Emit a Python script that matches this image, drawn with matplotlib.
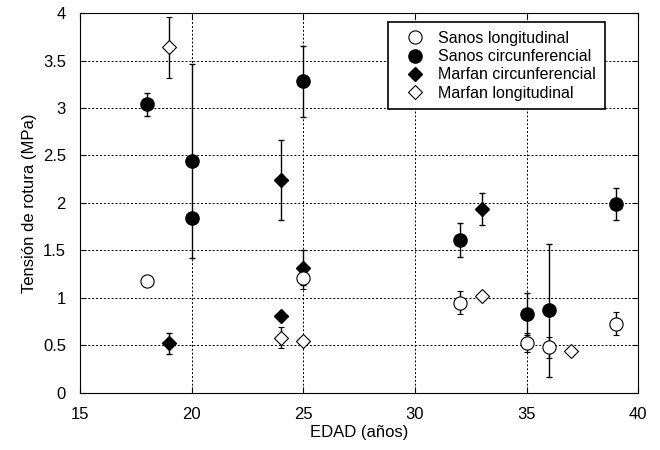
import matplotlib.pyplot as plt
from matplotlib.lines import Line2D

plt.rcParams['font.family'] = ['Liberation Sans', 'DejaVu Sans']

# Sanos longitudinal
sl_edad = [18, 25, 32, 35, 36, 39]
sl_val = [1.18, 1.21, 0.95, 0.53, 0.48, 0.73]
sl_err = [0.0, 0.12, 0.12, 0.10, 0.11, 0.12]

# Sanos circunferencial
sc_edad = [18, 20, 20, 25, 32, 35, 36, 39]
sc_val = [3.04, 2.44, 1.84, 3.28, 1.61, 0.83, 0.87, 1.99]
sc_err = [0.12, 1.02, 0.0, 0.37, 0.18, 0.22, 0.70, 0.17]

# Marfan circunferencial
mc_edad = [19, 24, 24, 25, 33]
mc_val = [0.52, 2.24, 0.81, 1.32, 1.94]
mc_err = [0.11, 0.42, 0.0, 0.18, 0.17]

# Marfan longitudinal
ml_edad = [19, 24, 25, 33, 37]
ml_val = [3.64, 0.58, 0.55, 1.02, 0.44]
ml_err = [0.32, 0.11, 0.0, 0.0, 0.0]

fig = plt.figure(figsize=(6.6, 4.5), dpi=100)
ax = fig.add_axes([0.121, 0.127, 0.846, 0.844])

eb = dict(ecolor='black', elinewidth=1, capsize=2.5, capthick=1, linestyle='none')
ax.errorbar(sc_edad, sc_val, yerr=sc_err, fmt='o', ms=9.5, mfc='black', mec='black',
            zorder=3, **eb)
ax.errorbar(mc_edad, mc_val, yerr=mc_err, fmt='D', ms=7.5, mfc='black', mec='black',
            zorder=3, **eb)
ax.errorbar(sl_edad, sl_val, yerr=sl_err, fmt='o', ms=9.5, mfc='white', mec='black',
            mew=0.8, zorder=4, **eb)
ax.errorbar(ml_edad, ml_val, yerr=ml_err, fmt='D', ms=7.5, mfc='white', mec='black',
            mew=0.8, zorder=4, **eb)

ax.set_xlim(15, 40)
ax.set_ylim(0, 4)
ax.set_xticks([15, 20, 25, 30, 35, 40])
ax.set_yticks([0, 0.5, 1, 1.5, 2, 2.5, 3, 3.5, 4])
ax.set_yticklabels(['0', '0.5', '1', '1.5', '2', '2.5', '3', '3.5', '4'])
ax.grid(True, color='black', linestyle=(0, (2, 2)), linewidth=0.7)
ax.tick_params(direction='in', top=True, right=True, labelsize=12, length=4, pad=10)
ax.set_xlabel('EDAD (años)', fontsize=12, labelpad=2)
ax.set_ylabel('Tensión de rotura (MPa)', fontsize=12, labelpad=4)

handles = [
    Line2D([], [], marker='o', ms=9.5, mfc='white', mec='black', mew=0.8, ls='none'),
    Line2D([], [], marker='o', ms=9.5, mfc='black', mec='black', ls='none'),
    Line2D([], [], marker='D', ms=7.5, mfc='black', mec='black', ls='none'),
    Line2D([], [], marker='D', ms=7.5, mfc='white', mec='black', mew=0.8, ls='none'),
]
labels = ['Sanos longitudinal', 'Sanos circunferencial',
          'Marfan circunferencial', 'Marfan longitudinal']
leg = ax.legend(handles, labels, loc='upper right', bbox_to_anchor=(0.94, 0.976),
                borderaxespad=0, fontsize=11.5, fancybox=False, framealpha=1,
                edgecolor='black', borderpad=0.55, labelspacing=0.2,
                handletextpad=0.3, handlelength=2.3)
leg.get_frame().set_linewidth(1.2)

fig.savefig('out.png', dpi=100)
